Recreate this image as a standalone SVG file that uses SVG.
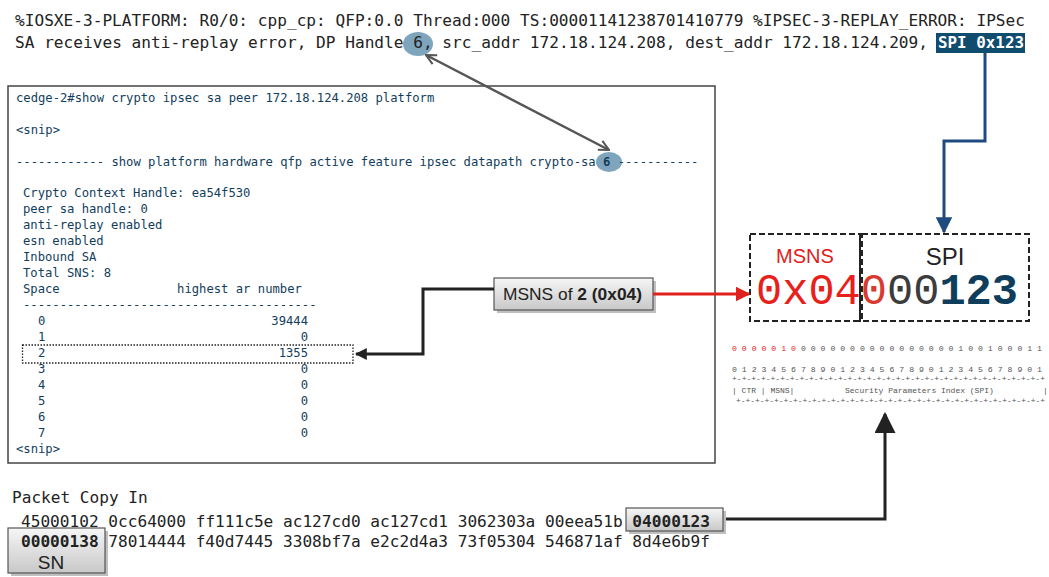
<svg xmlns="http://www.w3.org/2000/svg" width="1049" height="577" viewBox="0 0 1049 577">
<style>
.mono{font-family:"DejaVu Sans Mono","Liberation Mono",monospace;}
.lmono{font-family:"Liberation Mono","DejaVu Sans Mono",monospace;}
.log{font-size:16.1px;fill:#222;}
.term{font-size:12.2px;fill:#123e5c;}
.bits{font-size:8px;fill:#555;}
.red{fill:#e0201c;}
.btn{fill:url(#gg);stroke:#555;stroke-width:1.2;}
.shadow{fill:#000;opacity:0.25;}
.sans{font-family:"Liberation Sans","Open Sans",sans-serif;}
</style>
<defs>
<linearGradient id="gg" x1="0" y1="0" x2="0" y2="1">
<stop offset="0" stop-color="#f6f6f6"/>
<stop offset="1" stop-color="#c8c8c8"/>
</linearGradient>
<marker id="mBlack" viewBox="0 0 10 10" refX="9" refY="5" markerWidth="4" markerHeight="4" orient="auto" markerUnits="strokeWidth">
<path d="M0,0 L10,5 L0,10 z" fill="#222"/>
</marker>
<marker id="mBigBlack" viewBox="0 0 10 10" refX="9" refY="5" markerWidth="7" markerHeight="7" orient="auto" markerUnits="strokeWidth">
<path d="M0,0 L10,5 L0,10 z" fill="#222"/>
</marker>
<marker id="mBlue" viewBox="0 0 10 10" refX="9" refY="5" markerWidth="5.5" markerHeight="5.5" orient="auto" markerUnits="strokeWidth">
<path d="M0,0 L10,5 L0,10 z" fill="#1f4a80"/>
</marker>
<marker id="mRed" viewBox="0 0 10 10" refX="9" refY="5" markerWidth="5" markerHeight="5" orient="auto" markerUnits="strokeWidth">
<path d="M0,0 L10,5 L0,10 z" fill="#e0201c"/>
</marker>
<marker id="mGray" viewBox="0 0 10 10" refX="9" refY="5" markerWidth="5" markerHeight="5" orient="auto-start-reverse" markerUnits="strokeWidth">
<path d="M1,1 L9,5 L1,9" fill="none" stroke="#555" stroke-width="1.6"/>
</marker>
</defs>

<g id="log">
<text class="mono log" x="15" y="26" textLength="1010" lengthAdjust="spacingAndGlyphs">%IOSXE-3-PLATFORM: R0/0: cpp_cp: QFP:0.0 Thread:000 TS:00001141238701410779 %IPSEC-3-REPLAY_ERROR: IPSec</text>
<ellipse cx="418" cy="44" rx="15" ry="12" fill="#5f8eab" opacity="0.8"/>
<rect x="936" y="33" width="89" height="20" fill="#0f4c6e"/>
<text class="mono log" x="15" y="48" textLength="913" lengthAdjust="spacingAndGlyphs">SA receives anti-replay error, DP Handle 6, src_addr 172.18.124.208, dest_addr 172.18.124.209,</text>
<text class="mono log" x="938" y="48" font-weight="bold" style="fill:#fff" textLength="86" lengthAdjust="spacingAndGlyphs">SPI 0x123</text>
</g>

<g id="terminal">
<rect x="8" y="86" width="707" height="377" fill="#fff" stroke="#444" stroke-width="1.5"/>
<text class="mono term" x="16" y="102">cedge-2#show crypto ipsec sa peer 172.18.124.208 platform</text>
<text class="mono term" x="16" y="134">&lt;snip&gt;</text>
<ellipse cx="609" cy="162" rx="13" ry="10" fill="#5f8eab" opacity="0.8"/>
<text class="mono term" x="16" y="166" xml:space="preserve">------------ show platform hardware qfp active feature ipsec datapath crypto-sa <tspan font-weight="bold">6</tspan> -----------</text>
<text class="mono term" x="23" y="197">Crypto Context Handle: ea54f530</text>
<text class="mono term" x="23" y="213">peer sa handle: 0</text>
<text class="mono term" x="23" y="229">anti-replay enabled</text>
<text class="mono term" x="23" y="245">esn enabled</text>
<text class="mono term" x="23" y="261">Inbound SA</text>
<text class="mono term" x="23" y="277">Total SNS: 8</text>
<text class="mono term" x="23" y="293" xml:space="preserve">Space                highest ar number</text>
<text class="mono term" x="23" y="309">----------------------------------------</text>
<g class="mono term">
<text x="38" y="325">0</text><text x="308" y="325" text-anchor="end">39444</text>
<text x="38" y="341">1</text><text x="308" y="341" text-anchor="end">0</text>
<text x="38" y="357">2</text><text x="308" y="357" text-anchor="end">1355</text>
<text x="38" y="373">3</text><text x="308" y="373" text-anchor="end">0</text>
<text x="38" y="389">4</text><text x="308" y="389" text-anchor="end">0</text>
<text x="38" y="405">5</text><text x="308" y="405" text-anchor="end">0</text>
<text x="38" y="421">6</text><text x="308" y="421" text-anchor="end">0</text>
<text x="38" y="437">7</text><text x="308" y="437" text-anchor="end">0</text>
</g>
<text class="mono term" x="16" y="453">&lt;snip&gt;</text>
<rect x="22.5" y="345" width="330.5" height="18" fill="none" stroke="#222" stroke-width="1.3" stroke-dasharray="1.5,1.5"/>
</g>

<g id="msns-label">
<rect x="497" y="281" width="159" height="32" class="shadow"/>
<rect x="494" y="278" width="159" height="32" class="btn"/>
<text class="sans" x="503" y="300" font-size="17" fill="#222" textLength="139" lengthAdjust="spacingAndGlyphs">MSNS of <tspan font-weight="bold">2 (0x04)</tspan></text>
</g>

<g id="spi-field">
<rect x="750" y="234" width="110" height="87" fill="none" stroke="#222" stroke-width="2" stroke-dasharray="6,3"/>
<rect x="862" y="234" width="167" height="87" fill="none" stroke="#222" stroke-width="2" stroke-dasharray="6,3"/>
<line x1="860" y1="234" x2="860" y2="322" stroke="#222" stroke-width="2"/>
<text class="sans" x="805" y="263" font-size="20" text-anchor="middle" fill="#e0201c">MSNS</text>
<text class="sans" x="945" y="265" font-size="24" text-anchor="middle" fill="#222">SPI</text>
<text class="lmono" x="756" y="304" font-size="43.7" textLength="262" lengthAdjust="spacingAndGlyphs"><tspan fill="#e8201c">0x04</tspan><tspan fill="#d83a30">0</tspan><tspan fill="#3c3c3c">00</tspan><tspan fill="#0f3d5c" font-weight="bold">123</tspan></text>
</g>

<g id="bit-diagram" class="lmono bits">
<text x="732" y="351" textLength="310" lengthAdjust="spacingAndGlyphs"><tspan class="red">0 0 0 0 0 1 0</tspan> 0 0 0 0 0 0 0 0 0 0 0 0 0 0 0 0 1 0 0 1 0 0 0 1 1</text>
<text x="732" y="372" textLength="310" lengthAdjust="spacingAndGlyphs">0 1 2 3 4 5 6 7 8 9 0 1 2 3 4 5 6 7 8 9 0 1 2 3 4 5 6 7 8 9 0 1</text>
<text x="732" y="381" textLength="313" lengthAdjust="spacingAndGlyphs">+-+-+-+-+-+-+-+-+-+-+-+-+-+-+-+-+-+-+-+-+-+-+-+-+-+-+-+-+-+-+-+-+</text>
<text x="732" y="393">| CTR | MSNS|</text>
<text x="845" y="393">Security Parameters Index (SPI)</text>
<text x="1043" y="393">|</text>
<text x="736" y="403" textLength="309" lengthAdjust="spacingAndGlyphs">+-+-+-+-+-+-+-+-+-+-+-+-+-+-+-+-+-+-+-+-+-+-+-+-+-+-+-+-+-+-+-+-+</text>
</g>

<g id="packet">
<text class="mono log" x="12" y="503">Packet Copy In</text>
<rect x="629" y="511" width="97" height="23" class="shadow"/>
<rect x="626" y="508" width="97" height="23" class="btn"/>
<rect x="11" y="531" width="97" height="45" class="shadow"/>
<rect x="8" y="528" width="97" height="45" class="btn"/>
<text class="mono log" x="21" y="527" xml:space="preserve" textLength="689" lengthAdjust="spacingAndGlyphs">45000102 0cc64000 ff111c5e ac127cd0 ac127cd1 3062303a 00eea51b <tspan font-weight="bold">04000123</tspan></text>
<text class="mono log" x="21" y="547" xml:space="preserve" textLength="689" lengthAdjust="spacingAndGlyphs"><tspan font-weight="bold">00000138</tspan> 78014444 f40d7445 3308bf7a e2c2d4a3 73f05304 546871af 8d4e6b9f</text>
<text class="sans" x="51" y="569" font-size="19" text-anchor="middle" fill="#222">SN</text>
</g>

<g id="connectors" fill="none">
<line x1="426" y1="55" x2="609" y2="150" stroke="#555" stroke-width="2.5" marker-start="url(#mGray)" marker-end="url(#mGray)"/>
<polyline points="985,53 985,141 944,141 944,232" stroke="#1f4a80" stroke-width="3" marker-end="url(#mBlue)"/>
<polyline points="494,289 423,289 423,354 356,354" stroke="#222" stroke-width="3" marker-end="url(#mBlack)"/>
<line x1="653" y1="294" x2="749" y2="294" stroke="#e0201c" stroke-width="3" marker-end="url(#mRed)"/>
<polyline points="726,519 885,519 885,414" stroke="#222" stroke-width="3" marker-end="url(#mBigBlack)"/>
</g>
</svg>
